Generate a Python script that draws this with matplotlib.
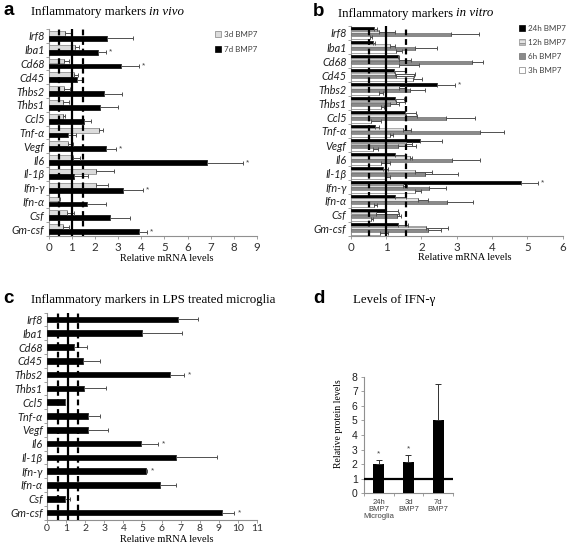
import matplotlib
matplotlib.use('Agg')
import matplotlib.pyplot as plt
import numpy as np

W, H = 567, 545
fig = plt.figure(figsize=(W / 100, H / 100), dpi=100)

SERIF = 'Liberation Serif'
SANS = 'Liberation Sans'
CAL = 'Lato'
GREY = '#404040'

genes = ['Irf8', 'Iba1', 'Cd68', 'Cd45', 'Thbs2', 'Thbs1', 'Ccl5', 'Tnf-α', 'Vegf',
         'Il6', 'Il-1β', 'Ifn-γ', 'Ifn-α', 'Csf', 'Gm-csf']

# ---- panel a: in vivo ----
a_3d = [0.70, 1.13, 0.66, 1.09, 0.66, 0.63, 0.63, 2.17, 0.84, 1.06, 2.06, 2.06, 0.44, 0.77, 0.63]
a_3d_err = [0.25, 0.17, 0.23, 0.17, 0.24, 0.24, 0.07, 0.17, 0.22, 0.28, 0.78, 0.50, 0.05, 0.32, 0.24]
a_7d = [2.51, 2.14, 3.13, 1.23, 2.39, 2.21, 1.54, 0.84, 2.46, 6.84, 1.11, 3.20, 1.66, 2.63, 3.91]
a_7d_err = [1.15, 0.35, 0.77, 0.26, 0.78, 0.79, 0.30, 0.33, 0.45, 1.57, 0.59, 0.86, 0.80, 0.90, 0.33]
a_sig = ['Iba1', 'Cd68', 'Vegf', 'Il6', 'Ifn-γ', 'Gm-csf']
a_lines_dashed = [0.44, 1.49]
a_line_solid = 1.0
a_xticks = list(range(0, 10))

# ---- panel b: in vitro ----
b_24h = [0.67, 0.62, 1.33, 1.22, 2.45, 1.24, 1.55, 0.70, 1.95, 1.24, 0.92, 4.81, 1.26, 1.00, 1.33]
b_24h_err = [0.08, 0.08, 0.05, 0.33, 0.50, 0.28, 0.31, 0.10, 0.62, 0.30, 0.13, 0.50, 0.30, 0.35, 0.30]
b_12h = [0.79, 1.10, 1.38, 1.24, 1.38, 1.29, 1.57, 1.48, 1.57, 1.67, 1.81, 1.48, 1.91, 0.71, 2.13]
b_12h_err = [0.45, 0.14, 0.32, 0.57, 0.15, 0.25, 0.31, 0.23, 0.17, 0.07, 0.48, 0.12, 0.27, 0.65, 0.62]
b_6h = [2.84, 1.81, 3.43, 1.29, 1.67, 1.10, 2.71, 3.67, 1.33, 2.86, 2.10, 2.23, 2.72, 1.30, 2.20]
b_6h_err = [0.78, 0.62, 0.31, 0.50, 0.43, 0.28, 0.81, 0.66, 0.53, 0.81, 0.95, 0.47, 0.75, 0.13, 0.35]
b_3h = [0.54, 1.29, 1.38, 1.76, 0.81, 0.86, 0.57, 1.10, 0.62, 0.86, 1.00, 1.82, 0.66, 0.57, 0.83]
b_3h_err = [0.05, 0.15, 0.54, 0.27, 0.10, 0.08, 0.28, 0.10, 0.15, 0.24, 0.10, 0.16, 0.09, 0.05, 0.22]
b_sig = ['Thbs2', 'Ifn-γ']
b_lines_dashed = [0.52, 1.56]
b_line_solid = 1.0
b_xticks = list(range(0, 7))

# ---- panel c: LPS treated microglia ----
c_vals = [6.86, 5.00, 1.39, 1.91, 6.42, 1.96, 0.92, 2.14, 2.17, 4.91, 6.77, 5.16, 5.90, 0.95, 9.17]
c_err = [1.04, 2.08, 0.73, 0.87, 0.75, 1.13, 0.00, 0.64, 1.01, 0.91, 2.13, 0.10, 0.87, 0.23, 0.64]
c_sig = ['Thbs2', 'Il6', 'Ifn-γ', 'Gm-csf']
c_lines_dashed = [0.57, 1.60]
c_line_solid = 1.08
c_xticks = list(range(0, 12))

# ---- panel d: IFN-gamma protein ----
d_groups = ['24h\nBMP7\nMicroglia', '3d\nBMP7', '7d\nBMP7']
d_vals = [2.00, 2.15, 5.05]
d_err = [0.30, 0.50, 2.45]
d_sig = [True, True, False]
d_yticks = list(range(0, 9))


def ax_px(x0, x1, ytop, ybot):
    return fig.add_axes([x0 / W, 1 - ybot / H, (x1 - x0) / W, (ybot - ytop) / H])


def style_hbar_axes(ax, xmax, xticks, xfs=8.3, xpad=2, xlen=2.5):
    n = len(genes)
    ax.set_ylim(n - 0.5, -0.5)
    ax.set_xlim(0, xmax)
    ax.set_yticks(range(n))
    ax.set_yticklabels(genes, fontfamily=CAL, fontstyle='italic', fontsize=7.8, color='#202020')
    ax.set_yticks(np.arange(-0.5, n, 1), minor=True)
    ax.tick_params(axis='y', which='major', length=0, pad=3)
    ax.tick_params(axis='y', which='minor', length=2.5, color='#909090', width=0.6)
    ax.set_xticks(xticks)
    ax.set_xticklabels([str(t) for t in xticks], fontfamily=CAL, fontsize=xfs, color='#303030')
    ax.tick_params(axis='x', length=xlen, color='#909090', width=0.6, pad=xpad)
    for s in ['top', 'right']:
        ax.spines[s].set_visible(False)
    for s in ['left', 'bottom']:
        ax.spines[s].set_color('#909090')
        ax.spines[s].set_linewidth(0.8)


def ref_lines(ax, dashed, solid):
    for d in dashed:
        ax.axvline(d, color='black', lw=1.6, ls=(0, (2.6, 1.7)), zorder=5)
    ax.axvline(solid, color='black', lw=1.6, zorder=5)


def hbars(ax, vals, errs, offset, height, color, edge, hatch=None, label=None):
    y = np.arange(len(genes)) + offset
    bars = ax.barh(y, vals, height=height, color=color, edgecolor=edge, linewidth=0.5,
                   hatch=hatch, label=label, zorder=3)
    ax.errorbar(vals, y, xerr=[np.zeros(len(vals)), errs], fmt='none', ecolor='#505050',
                elinewidth=0.7, capsize=1.3, capthick=0.7, zorder=4)
    return bars


def stars(ax, vals, errs, offset, sig, dx):
    for i, g in enumerate(genes):
        if g in sig:
            ax.text(vals[i] + errs[i] + dx, i + offset, '*', fontsize=6, color=GREY,
                    va='center', ha='left', fontfamily=SANS)


# ================= panel a =================
axa = ax_px(48.7, 257, 29, 236)
style_hbar_axes(axa, 9, a_xticks)
ha3 = hbars(axa, a_3d, a_3d_err, -0.18, 0.36, '#dcdcdc', '#808080', label='3d BMP7')
ha7 = hbars(axa, a_7d, a_7d_err, 0.18, 0.36, 'black', 'black', label='7d BMP7')
stars(axa, a_7d, a_7d_err, 0.18, a_sig, 0.12)
ref_lines(axa, a_lines_dashed, a_line_solid)
axa.set_xlabel('Relative mRNA levels', fontfamily=SERIF, fontsize=7.5)
axa.xaxis.set_label_coords((167 - 48.7) / 208.3, -0.087)
axa.legend(handles=[ha3, ha7], loc='upper left', bbox_to_anchor=(215 / W, 1 - 31 / H),
           bbox_transform=fig.transFigure, frameon=False, prop={'family': CAL, 'size': 5.8},
           handlelength=0.8, handleheight=0.8, handletextpad=0.3, labelspacing=0.95,
           borderpad=0, borderaxespad=0, labelcolor=GREY)

# ================= panel b =================
axb = ax_px(350.7, 562.7, 26, 236)
style_hbar_axes(axb, 6, b_xticks)
hb24 = hbars(axb, b_24h, b_24h_err, -0.315, 0.21, 'black', 'black', label='24h BMP7')
hb12 = hbars(axb, b_12h, b_12h_err, -0.105, 0.21, '#e4e4e4', '#909090', hatch='----', label='12h BMP7')
hb6 = hbars(axb, b_6h, b_6h_err, 0.105, 0.21, '#8a8a8a', '#707070', label='6h BMP7')
hb3 = hbars(axb, b_3h, b_3h_err, 0.315, 0.21, 'white', '#808080', label='3h BMP7')
stars(axb, b_24h, b_24h_err, -0.315, b_sig, 0.08)
ref_lines(axb, b_lines_dashed, b_line_solid)
axb.set_xlabel('Relative mRNA levels', fontfamily=SERIF, fontsize=7.5)
axb.xaxis.set_label_coords((465 - 350.7) / 212, -0.081)
axb.legend(handles=[hb24, hb12, hb6, hb3], loc='upper left', bbox_to_anchor=(519 / W, 1 - 25 / H),
           bbox_transform=fig.transFigure, frameon=False, prop={'family': CAL, 'size': 5.8},
           handlelength=0.8, handleheight=0.8, handletextpad=0.3, labelspacing=0.85,
           borderpad=0, borderaxespad=0, labelcolor=GREY)

# ================= panel c =================
c_top, c_bot = 312.5, 519.5
axc = ax_px(47, 257, c_top, c_bot)
style_hbar_axes(axc, 11, c_xticks, xfs=7.5, xpad=1, xlen=2)
hbars(axc, c_vals, c_err, 0.0, 0.42, 'black', 'black')
stars(axc, c_vals, c_err, 0.0, c_sig, 0.2)
ref_lines(axc, c_lines_dashed, c_line_solid)
axc.set_xlabel('Relative mRNA levels', fontfamily=SERIF, fontsize=7.5)
axc.xaxis.set_label_coords((167 - 47) / 210, (c_bot - 535.5) / (c_bot - c_top))

# ================= panel d =================
axd = ax_px(364, 453, 376.7, 493.3)
xd = np.arange(len(d_vals))
axd.bar(xd, d_vals, width=0.38, color='black', zorder=3)
axd.errorbar(xd, d_vals, yerr=[np.zeros(len(d_vals)), d_err], fmt='none', ecolor='#303030',
             elinewidth=0.7, capsize=2, capthick=0.7, zorder=4)
for i in range(len(d_vals)):
    if d_sig[i]:
        axd.text(xd[i], d_vals[i] + d_err[i] + 0.15, '*', ha='center', va='bottom',
                 fontsize=6, color=GREY, fontfamily=SANS)
axd.axhline(1, color='black', lw=1.6, zorder=5)
axd.set_xlim(-0.5, 2.5)
axd.set_ylim(0, 8)
axd.set_yticks(d_yticks)
axd.set_yticklabels([str(t) for t in d_yticks], fontfamily=SANS, fontsize=7.5, color='#202020')
axd.tick_params(axis='y', length=2.5, color='#909090', width=0.6, pad=2)
axd.set_xticks(xd)
axd.set_xticklabels(d_groups, fontfamily=SANS, fontsize=5.5, color=GREY, linespacing=1.05)
axd.set_xticks([-0.5, 0.5, 1.5, 2.5], minor=True)
axd.tick_params(axis='x', which='major', length=0, pad=4)
axd.tick_params(axis='x', which='minor', length=2.5, color='#909090', width=0.6)
for s in ['top', 'right']:
    axd.spines[s].set_visible(False)
for s in ['left', 'bottom']:
    axd.spines[s].set_color('#909090')
    axd.spines[s].set_linewidth(0.8)
axd.set_ylabel('Relative protein levels', fontfamily=SERIF, fontsize=7)
axd.yaxis.set_label_coords(-0.24, 0.6)

# ================= titles & panel letters =================
def fx(x):
    return x / W


def fy(y):
    return 1 - y / H


renderer = fig.canvas.get_renderer()


def mixed_title(x, ybase, normal, italic, size):
    t1 = fig.text(fx(x), fy(ybase), normal, family=SERIF, fontsize=size, va='baseline', ha='left')
    bb = t1.get_window_extent(renderer)
    if italic:
        space = size * 0.25 * 100 / 72
        fig.text((bb.x1 + space) / W, fy(ybase), italic, family=SERIF, fontsize=size,
                 style='italic', va='baseline', ha='left')


for letter, x, yb in [('a', 3, 15), ('b', 313, 15.5), ('c', 3, 303), ('d', 313, 302.7)]:
    fig.text(fx(x), fy(yb), letter, family=SANS, fontweight='bold', fontsize=13.5, va='baseline', ha='left')

mixed_title(31, 15, 'Inflammatory markers', 'in vivo', 9.3)
mixed_title(338, 16.5, 'Inflammatory markers', 'in vitro', 9.3)
mixed_title(31, 303, 'Inflammatory markers in LPS treated microglia', None, 9.3)
mixed_title(353, 303, 'Levels of IFN-γ', None, 9.3)

fig.savefig('out.png', dpi=100)
